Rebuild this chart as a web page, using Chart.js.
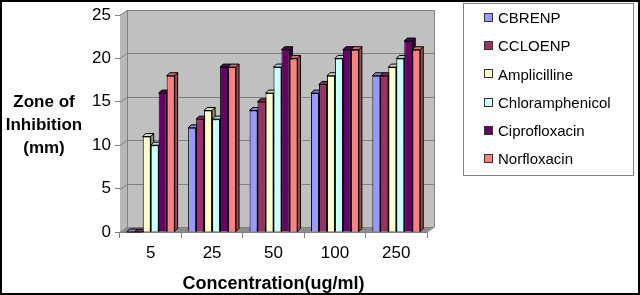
<!DOCTYPE html>
<html>
<head>
<meta charset="utf-8">
<script src="https://cdn.jsdelivr.net/npm/chart.js@4.4.1/dist/chart.umd.min.js"></script>
<style>
html,body{margin:0;padding:0;background:#fff;}
#wrap{width:640px;height:295px;position:relative;}
</style>
</head>
<body>
<div id="wrap"><canvas id="c" width="640" height="295"></canvas></div>
<script>
const categories = ['5', '25', '50', '100', '250'];
const seriesNames = ['CBRENP', 'CCLOENP', 'Amplicilline', 'Chloramphenicol', 'Ciprofloxacin', 'Norfloxacin'];
const cbrenp = [0, 12, 14, 16, 18];
const ccloenp = [0, 13, 15, 17, 18];
const amplicilline = [11, 14, 16, 18, 19];
const chloramphenicol = [10, 13, 19, 20, 20];
const ciprofloxacin = [16, 19, 21, 21, 22];
const norfloxacin = [18, 19, 20, 21, 21];
const yTicks = [0, 5, 10, 15, 20, 25];
const yTitleLines = ['Zone of', 'Inhibition', '(mm)'];
const xTitle = 'Concentration(ug/ml)';

const seriesValues = [cbrenp, ccloenp, amplicilline, chloramphenicol, ciprofloxacin, norfloxacin];
const colors = ['#9999FF', '#993366', '#FFFFCC', '#CCFFFF', '#660066', '#FF8080'];

const FONT = '"Liberation Sans", Arial, sans-serif';
const WALL_DX = 7, WALL_DY = -5, BAR_D = 3;

function shade(hex, f) {
  const n = parseInt(hex.slice(1), 16);
  const r = Math.round(((n >> 16) & 255) * f), g = Math.round(((n >> 8) & 255) * f), b = Math.round((n & 255) * f);
  return 'rgb(' + r + ',' + g + ',' + b + ')';
}

const threeD = {
  id: 'threeD',
  beforeDatasetsDraw(chart) {
    const ctx = chart.ctx, a = chart.chartArea, ys = chart.scales.y;
    ctx.save();
    ctx.fillStyle = '#b8b8b8';
    ctx.beginPath();
    ctx.moveTo(a.left, a.top); ctx.lineTo(a.left + WALL_DX, a.top + WALL_DY);
    ctx.lineTo(a.left + WALL_DX, a.bottom + WALL_DY); ctx.lineTo(a.left, a.bottom);
    ctx.closePath(); ctx.fill();
    ctx.fillStyle = '#c0c0c0';
    ctx.fillRect(a.left + WALL_DX, a.top + WALL_DY, a.right - a.left, a.bottom - a.top);
    ctx.fillStyle = '#8c8c8c';
    ctx.beginPath();
    ctx.moveTo(a.left, a.bottom); ctx.lineTo(a.right, a.bottom);
    ctx.lineTo(a.right + WALL_DX, a.bottom + WALL_DY); ctx.lineTo(a.left + WALL_DX, a.bottom + WALL_DY);
    ctx.closePath(); ctx.fill();
    ctx.strokeStyle = '#808080'; ctx.lineWidth = 1;
    yTicks.forEach(v => {
      const y = Math.round(ys.getPixelForValue(v)) + 0.5;
      ctx.beginPath();
      ctx.moveTo(a.left, y);
      ctx.lineTo(a.left + WALL_DX, y + WALL_DY);
      ctx.lineTo(a.right + WALL_DX, y + WALL_DY);
      ctx.stroke();
    });
    ctx.strokeStyle = '#808080';
    ctx.beginPath();
    ctx.moveTo(a.left + WALL_DX + 0.5, a.bottom + WALL_DY);
    ctx.lineTo(a.left + WALL_DX + 0.5, a.top + WALL_DY + 0.5);
    ctx.lineTo(a.right + WALL_DX + 0.5, a.top + WALL_DY + 0.5);
    ctx.lineTo(a.right + WALL_DX + 0.5, a.bottom + WALL_DY);
    ctx.lineTo(a.right + 0.5, a.bottom);
    ctx.stroke();
    chart.data.datasets.forEach((ds, di) => {
      const meta = chart.getDatasetMeta(di);
      meta.data.forEach(bar => {
        const p = bar.getProps(['x', 'y', 'base', 'width'], true);
        const l = p.x - p.width / 2, r = p.x + p.width / 2, t = p.y, b = p.base;
        ctx.strokeStyle = '#000'; ctx.lineWidth = 1; ctx.lineJoin = 'round';
        ctx.fillStyle = shade(colors[di], 0.6);
        ctx.beginPath();
        ctx.moveTo(r, t); ctx.lineTo(r + BAR_D, t - BAR_D); ctx.lineTo(r + BAR_D, b - BAR_D); ctx.lineTo(r, b);
        ctx.closePath(); ctx.fill(); ctx.stroke();
        ctx.fillStyle = shade(colors[di], 0.85);
        ctx.beginPath();
        ctx.moveTo(l, t); ctx.lineTo(r, t); ctx.lineTo(r + BAR_D, t - BAR_D); ctx.lineTo(l + BAR_D, t - BAR_D);
        ctx.closePath(); ctx.fill(); ctx.stroke();
      });
    });
    ctx.restore();
  },
  afterDraw(chart) {
    const ctx = chart.ctx;
    ctx.save();
    ctx.fillStyle = '#000';
    ctx.font = 'bold 17px ' + FONT;
    ctx.textAlign = 'center'; ctx.textBaseline = 'middle';
    yTitleLines.forEach((s, i) => ctx.fillText(s, 44, 102 + i * 23));
    ctx.strokeStyle = '#808080'; ctx.lineWidth = 1;
    ctx.strokeRect(463.5, 3.5, 170, 172);
    ctx.font = '15px ' + FONT;
    ctx.textAlign = 'left';
    seriesNames.forEach((s, i) => {
      const cy = 18 + i * 28.2;
      ctx.fillStyle = colors[i];
      ctx.fillRect(485, Math.round(cy) - 4, 7, 7);
      ctx.strokeStyle = '#333';
      ctx.strokeRect(484.5, Math.round(cy) - 4.5, 8, 8);
      ctx.fillStyle = '#000';
      ctx.fillText(s, 498, cy + 1);
    });
    ctx.strokeStyle = '#000'; ctx.lineWidth = 2;
    ctx.strokeRect(1, 1, 638, 293);
    ctx.restore();
  }
};

new Chart(document.getElementById('c'), {
  type: 'bar',
  data: {
    labels: categories,
    datasets: seriesNames.map((n, i) => ({
      label: n,
      data: seriesValues[i],
      backgroundColor: colors[i],
      borderColor: '#000',
      borderWidth: 1,
      barPercentage: 1,
      categoryPercentage: 0.78
    }))
  },
  options: {
    responsive: false,
    animation: false,
    layout: { padding: { left: 0, right: 213, top: 15, bottom: 0 } },
    plugins: { legend: { display: false }, tooltip: { enabled: false } },
    scales: {
      x: {
        grid: { display: true, drawOnChartArea: false, drawTicks: true, tickLength: 6, offset: true, color: '#808080' },
        border: { display: true, color: '#808080' },
        ticks: { color: '#000', font: { family: FONT, size: 17 }, padding: 5 },
        title: { display: true, text: xTitle, color: '#000', font: { family: FONT, size: 18, weight: 'bold' }, padding: { top: 4, bottom: 0 } },
        afterFit(s) { s.height = 63; }
      },
      y: {
        min: 0, max: 25,
        afterBuildTicks(s) { s.ticks = yTicks.map(v => ({ value: v })); },
        grid: { display: true, drawOnChartArea: false, drawTicks: true, tickLength: 5, color: '#808080' },
        border: { display: true, color: '#808080' },
        ticks: { color: '#000', font: { family: FONT, size: 17 }, padding: 4 },
        afterFit(s) { s.width = 120; }
      }
    }
  },
  plugins: [threeD]
});
</script>
</body>
</html>
